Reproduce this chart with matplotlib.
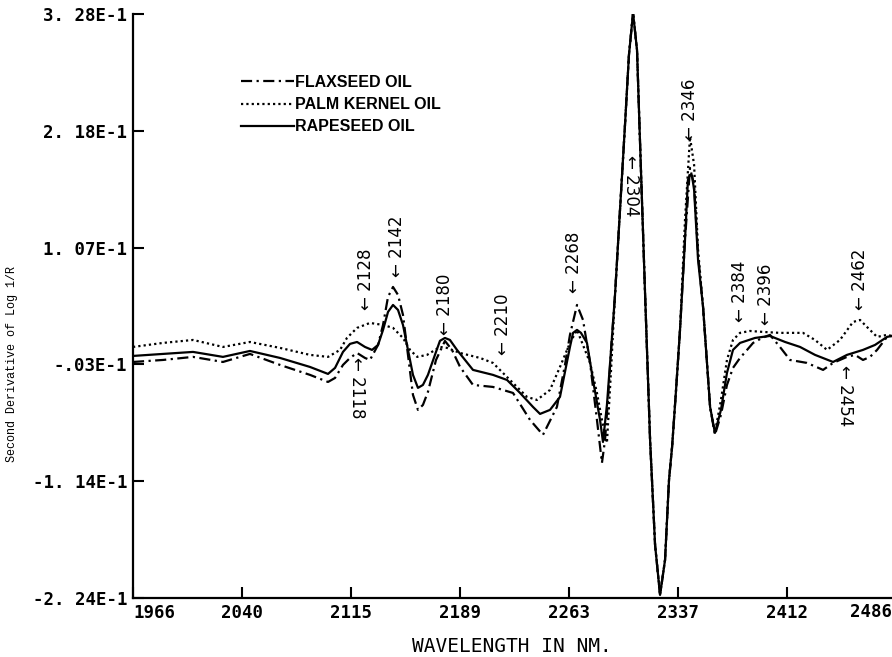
import matplotlib
matplotlib.use("Agg")
import matplotlib.pyplot as plt
import numpy as np

# ---------------- data ----------------
rape_wl = [1966.0, 1986.4, 2006.9, 2027.3, 2045.7, 2066.2, 2086.6, 2098.9, 2103.7, 2109.1,
           2113.9, 2118.7, 2124.1, 2128.9, 2133.0, 2136.4, 2139.8, 2143.2, 2146.6, 2150.0,
           2153.4, 2156.8, 2160.2, 2163.6, 2167.0, 2172.5, 2175.2, 2178.6, 2182.0, 2186.8,
           2197.7, 2211.3, 2220.9, 2229.8, 2238.6, 2243.4, 2250.2, 2257.0, 2263.8, 2265.9,
           2268.6, 2271.3, 2275.4, 2279.5, 2284.3, 2286.3, 2289.0, 2291.8, 2294.5, 2297.9,
           2301.3, 2304.0, 2306.8, 2309.5, 2311.5, 2314.9, 2318.4, 2321.8, 2325.2, 2328.6,
           2331.3, 2333.4, 2336.1, 2338.8, 2342.2, 2344.2, 2345.6, 2347.0, 2348.4, 2351.1,
           2354.5, 2359.3, 2362.6, 2366.7, 2370.8, 2374.9, 2379.7, 2389.9, 2400.1, 2410.4,
           2420.6, 2430.8, 2443.1, 2452.6, 2463.5, 2471.7, 2479.9, 2483.3]
rape_val = [0.0048, 0.0067, 0.0086, 0.0039, 0.0095, 0.0029, -0.0056, -0.0122, -0.0065, 0.0086,
            0.0162, 0.0180, 0.0133, 0.0105, 0.0152, 0.0294, 0.0464, 0.0530, 0.0483, 0.0341,
            0.0105, -0.0131, -0.0254, -0.0226, -0.0131, 0.0086, 0.0191, 0.0218, 0.0199, 0.0105,
            -0.0084, -0.0131, -0.0179, -0.0302, -0.0434, -0.0500, -0.0462, -0.0339, 0.0133, 0.0266,
            0.0294, 0.0266, 0.0171, -0.0179, -0.0557, -0.0765, -0.0415, 0.0105, 0.0625, 0.1428,
            0.2231, 0.2893, 0.3290, 0.2940, 0.2089, 0.0672, -0.0746, -0.1738, -0.2211, -0.1880,
            -0.1124, -0.0812, -0.0273, 0.0294, 0.1144, 0.1711, 0.1759, 0.1749, 0.1617, 0.0955,
            0.0511, -0.0434, -0.0679, -0.0462, -0.0112, 0.0105, 0.0171, 0.0218, 0.0237, 0.0180,
            0.0133, 0.0058, -0.0009, 0.0058, 0.0105, 0.0152, 0.0228, 0.0237]

flax_wl = [1966.0, 1986.4, 2006.9, 2027.3, 2045.7, 2066.2, 2086.6, 2098.9, 2103.7, 2109.1,
           2113.9, 2118.7, 2124.1, 2127.5, 2133.0, 2136.4, 2139.8, 2143.2, 2146.6, 2150.0,
           2153.4, 2156.8, 2160.2, 2163.6, 2167.0, 2172.5, 2178.6, 2183.4, 2188.9, 2197.7,
           2211.3, 2225.0, 2236.6, 2245.4, 2254.9, 2260.4, 2263.8, 2268.6, 2272.7, 2277.5,
           2282.2, 2285.6, 2287.7, 2289.7, 2291.8, 2294.5, 2297.9, 2301.3, 2304.0, 2306.8,
           2309.5, 2311.5, 2314.9, 2318.4, 2321.8, 2325.2, 2328.6, 2331.3, 2333.4, 2336.1,
           2338.8, 2342.2, 2345.6, 2348.4, 2351.1, 2354.5, 2359.3, 2362.6, 2366.7, 2370.8,
           2374.9, 2379.7, 2384.5, 2388.6, 2394.7, 2400.1, 2406.9, 2413.8, 2425.3, 2436.3,
           2443.1, 2452.6, 2458.1, 2463.5, 2468.3, 2473.1, 2479.9, 2483.3]
flax_val = [-0.0009, 0.0010, 0.0039, -0.0009, 0.0067, -0.0037, -0.0131, -0.0198, -0.0160, -0.0037,
            0.0029, 0.0076, 0.0029, 0.0010, 0.0152, 0.0341, 0.0606, 0.0700, 0.0625, 0.0436,
            0.0058, -0.0320, -0.0462, -0.0415, -0.0292, 0.0010, 0.0190, 0.0105, -0.0056, -0.0226,
            -0.0245, -0.0302, -0.0557, -0.0698, -0.0434, -0.0037, 0.0247, 0.0530, 0.0388, -0.0018,
            -0.0557, -0.0963, -0.0746, -0.0368, 0.0105, 0.0625, 0.1428, 0.2231, 0.2893, 0.3290,
            0.2940, 0.2089, 0.0672, -0.0746, -0.1738, -0.2211, -0.1880, -0.1124, -0.0812, -0.0273,
            0.0294, 0.1144, 0.1825, 0.1664, 0.1003, 0.0511, -0.0434, -0.0698, -0.0509, -0.0226,
            -0.0065, 0.0029, 0.0105, 0.0171, 0.0218, 0.0247, 0.0133, 0.0010, -0.0018, -0.0084,
            -0.0018, 0.0039, 0.0058, 0.0010, 0.0039, 0.0105, 0.0228, 0.0237]

palm_wl = [1966.0, 1986.4, 2006.9, 2027.3, 2045.7, 2066.2, 2086.6, 2098.9, 2107.1, 2111.8,
           2118.7, 2127.5, 2136.4, 2143.2, 2150.0, 2154.8, 2159.7, 2166.4, 2175.2, 2180.0,
           2188.9, 2202.5, 2211.3, 2222.9, 2234.5, 2241.3, 2250.2, 2257.0, 2263.8, 2268.6,
           2277.5, 2282.2, 2285.6, 2289.0, 2291.8, 2294.5, 2297.9, 2301.3, 2304.0, 2306.8,
           2309.5, 2311.5, 2314.9, 2318.4, 2321.8, 2325.2, 2328.6, 2331.3, 2333.4, 2336.1,
           2338.8, 2342.2, 2345.6, 2348.4, 2351.1, 2354.5, 2359.3, 2362.6, 2366.7, 2370.8,
           2374.9, 2379.7, 2386.5, 2395.4, 2406.9, 2422.6, 2430.8, 2439.0, 2447.8, 2456.7,
           2461.5, 2466.2, 2473.1, 2479.9, 2483.3]
palm_val = [0.0133, 0.0171, 0.0199, 0.0133, 0.0180, 0.0124, 0.0058, 0.0039, 0.0105, 0.0218,
            0.0313, 0.0360, 0.0341, 0.0313, 0.0218, 0.0105, 0.0039, 0.0058, 0.0133, 0.0124,
            0.0076, 0.0029, -0.0018, -0.0179, -0.0339, -0.0368, -0.0273, -0.0056, 0.0171, 0.0294,
            -0.0018, -0.0302, -0.0557, -0.0774, -0.0084, 0.0625, 0.1428, 0.2231, 0.2893, 0.3290,
            0.2940, 0.2089, 0.0672, -0.0746, -0.1738, -0.2211, -0.1880, -0.1124, -0.0812, -0.0273,
            0.0294, 0.1333, 0.2118, 0.1853, 0.1050, 0.0511, -0.0434, -0.0679, -0.0368, 0.0010,
            0.0199, 0.0266, 0.0284, 0.0275, 0.0266, 0.0266, 0.0199, 0.0105, 0.0199, 0.0369,
            0.0388, 0.0322, 0.0228, 0.0247, 0.0237]

series_names = ["FLAXSEED OIL", "PALM KERNEL OIL", "RAPESEED OIL"]

xtick_vals = [1966 + k * 520 / 7 for k in range(8)]
xtick_labels = ["1966", "2040", "2115", "2189", "2263", "2337", "2412", "2486"]
ytick_vals = [-0.224 + k * 0.552 / 5 for k in range(6)]
ytick_labels = ["-2. 24E-1", "-1. 14E-1", "-.03E-1", "1. 07E-1", "2. 18E-1", "3. 28E-1"]

# peak annotations
peak_labels = ["2128", "2142", "2180", "2210", "2268", "2346", "2384", "2396", "2462",
               "2118", "2304", "2454"]
peak_x = [2124.8, 2146.0, 2178.6, 2218.0, 2266.5, 2345.6, 2379.7, 2397.4, 2461.5,
          2119.0, 2305.5, 2451.0]
peak_y = [0.0483, 0.0795, 0.0247, 0.0058, 0.0644, 0.2089, 0.0369, 0.0341, 0.0483,
          0.0039, 0.1948, -0.0037]
peak_down = [True] * 9 + [False] * 3

# ---------------- figure ----------------
W, H = 892, 657
fig = plt.figure(figsize=(W / 100, H / 100), dpi=100)
ax = fig.add_axes([133 / W, 59 / H, 763 / W, 584 / H])

lw = 1.6
ax.plot(flax_wl, flax_val, color="black", lw=lw, linestyle=(0, (5, 2, 1, 2)),
        label=series_names[0], zorder=3)
ax.plot(palm_wl, palm_val, color="black", lw=lw, linestyle=(0, (1, 1.4)),
        label=series_names[1], zorder=2)
ax.plot(rape_wl, rape_val, color="black", lw=lw, linestyle="-",
        label=series_names[2], zorder=4)

ax.set_xlim(1966, 2486)
ax.set_ylim(-0.224, 0.328)

for s in ["top", "right"]:
    ax.spines[s].set_visible(False)
for s in ["left", "bottom"]:
    ax.spines[s].set_linewidth(1.6)

mono = {"family": "DejaVu Sans Mono", "weight": "bold", "size": 12.5}
ax.set_xticks(xtick_vals)
ax.set_xticklabels(xtick_labels[:-1] + [""], fontdict=mono)
ax.set_yticks(ytick_vals)
ax.set_yticklabels(ytick_labels, fontdict=mono)
ax.tick_params(axis="both", direction="in", length=8, width=1.5)
ax.tick_params(axis="x", pad=4)
ax.tick_params(axis="y", pad=4)
xl = ax.get_xticklabels()
xl[0].set_ha("left")
# last tick label sits at the right edge of the picture
ax.annotate(xtick_labels[-1], xy=(xtick_vals[-1], -0.224), xycoords="data",
            xytext=(-3, -3.5), textcoords="offset points", ha="right", va="top",
            annotation_clip=False, **mono)

fig.text(512 / W, 1 - 647 / H, "WAVELENGTH IN NM.", family="DejaVu Sans Mono",
         fontsize=14, ha="center", va="center")
fig.text(12 / W, 1 - 364 / H, "Second Derivative of Log 1/R", family="Liberation Mono",
         fontsize=8.5, rotation=90, ha="center", va="center")

for lab, x, y, down in zip(peak_labels, peak_x, peak_y, peak_down):
    if down:
        ax.text(x, y, "\u2190 " + lab, rotation=90, ha="center", va="bottom",
                fontsize=12, family="DejaVu Sans", zorder=5)
    else:
        ax.text(x, y, "\u2190 " + lab, rotation=-90, ha="center", va="top",
                fontsize=12, family="DejaVu Sans", zorder=5)

leg = ax.legend(loc="upper left", bbox_to_anchor=(241 / W, 1 - 75 / H),
                bbox_transform=fig.transFigure, frameon=False, borderaxespad=0,
                borderpad=0, handlelength=3.3, handletextpad=0.05, labelspacing=0.45,
                prop={"family": ["Liberation Sans Narrow", "Liberation Sans"],
                      "weight": "bold", "size": 11.5})

fig.savefig("out.png", dpi=100)
